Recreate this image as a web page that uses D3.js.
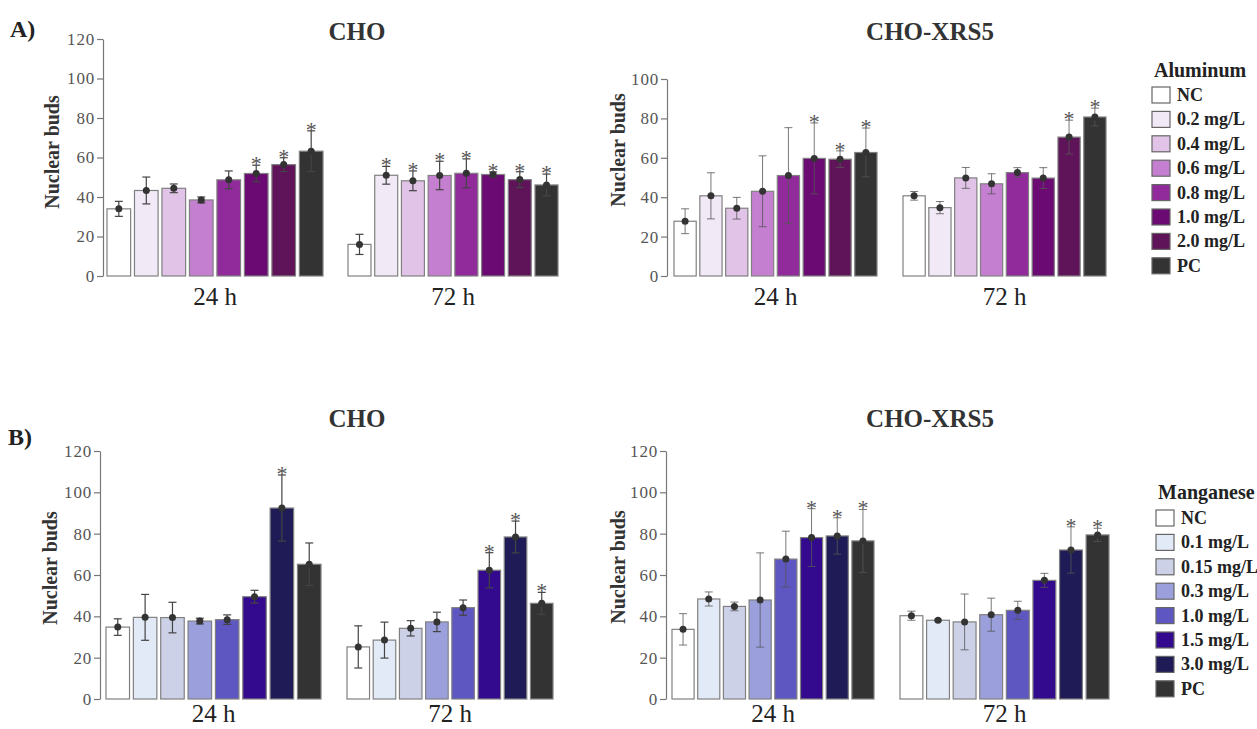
<!DOCTYPE html>
<html><head><meta charset="utf-8">
<script src="https://cdn.jsdelivr.net/npm/d3@7"></script>
<style>
body{margin:0;background:#fff;}
svg text{font-family:"Liberation Serif","Times New Roman",serif !important;}
</style></head>
<body><svg id="c" width="1257" height="729"></svg>
<script>
// ---------- DATA ----------
const alCategories = ["NC","0.2 mg/L","0.4 mg/L","0.6 mg/L","0.8 mg/L","1.0 mg/L","2.0 mg/L","PC"];
const mnCategories = ["NC","0.1 mg/L","0.15 mg/L","0.3 mg/L","1.0 mg/L","1.5 mg/L","3.0 mg/L","PC"];
const alColors = ["#ffffff","#f2e9f7","#e0c3e6","#c47fd0","#912b9b","#6b0a72","#5f1459","#333333"];
const mnColors = ["#ffffff","#e3eaf7","#ccd1e7","#9ba0dd","#5e56c1","#330a8d","#1e1b56","#333333"];
const timeLabels = ["24 h","72 h"];

// Aluminum – CHO
const alCho24 = [34.0,43.3,44.4,38.5,48.7,51.9,56.4,63.2];
const alCho24Err = [3.8,6.8,2.2,1.5,4.5,4.2,3.5,10.3];
const alCho24Sig = [0,0,0,0,0,1,1,1];
const alCho72 = [16.0,51.0,48.2,50.9,52.0,51.4,48.8,46.1];
const alCho72Err = [5.1,4.5,5.0,7.2,7.3,1.3,4.0,5.5];
const alCho72Sig = [0,1,1,1,1,1,1,1];
// Aluminum – CHO-XRS5
const alXrs24 = [27.8,40.7,34.4,43.0,51.0,59.7,59.3,62.7];
const alXrs24Err = [6.3,11.7,5.5,18.0,24.3,18.0,4.2,12.4];
const alXrs24Sig = [0,0,0,0,0,1,1,1];
const alXrs72 = [40.7,34.7,49.8,46.8,52.5,49.7,70.5,80.7];
const alXrs72Err = [2.2,3.1,5.3,5.1,2.5,5.3,8.6,4.5];
const alXrs72Sig = [0,0,0,0,0,0,1,1];
// Manganese – CHO
const mnCho24 = [34.8,39.5,39.4,37.7,38.4,49.5,92.4,65.2];
const mnCho24Err = [4.0,11.1,7.4,1.4,2.3,3.1,16.0,10.3];
const mnCho24Sig = [0,0,0,0,0,0,1,0];
const mnCho72 = [25.2,28.5,34.2,37.3,44.2,62.3,78.4,46.3];
const mnCho72Err = [10.2,8.7,3.7,4.7,3.7,8.5,7.7,5.3];
const mnCho72Sig = [0,0,0,0,0,1,1,1];
// Manganese – CHO-XRS5
const mnXrs24 = [33.7,48.4,44.8,47.9,67.7,78.1,78.9,76.5];
const mnXrs24Err = [7.6,3.4,2.1,22.8,13.5,14.0,8.8,15.2];
const mnXrs24Sig = [0,0,0,0,0,1,1,1];
const mnXrs72 = [40.3,38.1,37.3,40.8,42.9,57.4,72.1,79.4];
const mnXrs72Err = [2.2,0.5,13.5,8.0,4.4,3.4,11.2,3.2];
const mnXrs72Sig = [0,0,0,0,0,0,1,1];

const yTicksA1 = [0,20,40,60,80,100,120];
const yTicksA2 = [0,20,40,60,80,100];
const yTicksB = [0,20,40,60,80,100,120];

// ---------- LAYOUT ----------
const FONT = "'Liberation Serif','Times New Roman',serif";
const svg = d3.select("#c");
const panels = [
  {title:"CHO", tx:357, ty:40, ax:103, y0:276, yTop:39, max:120, ticks:yTicksA1, labX:52, labY:152, tY:305,
   groups:[[107,323],[348,558]], cats:alCategories, colors:alColors,
   series:[[alCho24,alCho24Err,alCho24Sig],[alCho72,alCho72Err,alCho72Sig]], thin:false},
  {title:"CHO-XRS5", tx:930, ty:40, ax:667, y0:276, yTop:79, max:100, ticks:yTicksA2, labX:618, labY:150, tY:305,
   groups:[[674,877],[903,1106]], cats:alCategories, colors:alColors,
   series:[[alXrs24,alXrs24Err,alXrs24Sig],[alXrs72,alXrs72Err,alXrs72Sig]], thin:true},
  {title:"CHO", tx:357, ty:427, ax:100, y0:699, yTop:451, max:120, ticks:yTicksB, labX:50, labY:568, tY:722,
   groups:[[106,321],[347,553]], cats:mnCategories, colors:mnColors,
   series:[[mnCho24,mnCho24Err,mnCho24Sig],[mnCho72,mnCho72Err,mnCho72Sig]], thin:false},
  {title:"CHO-XRS5", tx:930, ty:427, ax:666, y0:699, yTop:451, max:120, ticks:yTicksB, labX:618, labY:567, tY:722,
   groups:[[672,874],[900,1109]], cats:mnCategories, colors:mnColors,
   series:[[mnXrs24,mnXrs24Err,mnXrs24Sig],[mnXrs72,mnXrs72Err,mnXrs72Sig]], thin:true}
];

svg.append("text").attr("x",10).attr("y",37).style("font-size","24px").attr("font-weight","bold").attr("fill","#222").text("A)");
svg.append("text").attr("x",8).attr("y",445).style("font-size","24px").attr("font-weight","bold").attr("fill","#222").text("B)");

panels.forEach(p=>{
  const g = svg.append("g");
  g.append("text").attr("x",p.tx).attr("y",p.ty).attr("text-anchor","middle")
    .style("font-size","25px").attr("font-weight","bold").attr("fill","#333").text(p.title);
  const y = d3.scaleLinear().domain([0,p.max]).range([p.y0,p.yTop]);
  const ax = g.append("g").attr("transform",`translate(${p.ax},0)`)
    .call(d3.axisLeft(y).tickValues(p.ticks).tickSize(6).tickSizeOuter(0).tickPadding(2));
  ax.attr("font-family",null).attr("font-size",null);
  ax.select(".domain").attr("stroke","#777").attr("stroke-width",1.2);
  ax.selectAll(".tick line").attr("stroke","#777").attr("stroke-width",1.2);
  ax.selectAll(".tick text").style("font-family",FONT).style("font-size","17px")
    .attr("fill","#555").attr("letter-spacing","0.8px");
  g.append("text").attr("transform",`translate(${p.labX},${p.labY}) rotate(-90)`)
    .attr("text-anchor","middle").attr("dominant-baseline","central")
    .style("font-size","20px").attr("font-weight","bold").attr("fill","#333").text("Nuclear buds");
  p.series.forEach((s,gi)=>{
    const [vals,errs,sig] = s;
    const x = d3.scaleBand().domain(p.cats).range(p.groups[gi]).paddingInner(0.14).paddingOuter(0);
    const data = p.cats.map((c,i)=>({c,v:vals[i],e:errs[i],s:sig[i],col:p.colors[i]}));
    const gg = g.append("g");
    gg.selectAll("rect").data(data).join("rect")
      .attr("x",d=>x(d.c)).attr("width",x.bandwidth())
      .attr("y",d=>y(d.v)).attr("height",d=>y(0)-y(d.v))
      .attr("fill",d=>d.col).attr("stroke","#808080").attr("stroke-width",1.2);
    const cx = d=>x(d.c)+x.bandwidth()/2;
    const ec = p.thin ? "#555" : "#444";
    const ew = p.thin ? 0.8 : 1.2;
    gg.selectAll("line.v").data(data).join("line").attr("class","v")
      .attr("x1",cx).attr("x2",cx).attr("y1",d=>y(d.v+d.e)).attr("y2",d=>y(d.v-d.e))
      .attr("stroke",ec).attr("stroke-width",ew);
    ["+","-"].forEach(sg=>{
      gg.selectAll("line.c"+(sg==="+"?"u":"l")).data(data).join("line").attr("class","c"+(sg==="+"?"u":"l"))
        .attr("x1",d=>cx(d)-4).attr("x2",d=>cx(d)+4)
        .attr("y1",d=>y(sg==="+"?d.v+d.e:d.v-d.e)).attr("y2",d=>y(sg==="+"?d.v+d.e:d.v-d.e))
        .attr("stroke",ec).attr("stroke-width",ew);
    });
    gg.selectAll("circle").data(data).join("circle")
      .attr("cx",cx).attr("cy",d=>y(d.v)).attr("r",3.5).attr("fill","#333");
    gg.selectAll("text.star").data(data.filter(d=>d.s)).join("text").attr("class","star")
      .attr("x",cx).attr("y",d=>y(d.v+d.e)+6).attr("text-anchor","middle")
      .style("font-size","22px").attr("fill","#555").text("*");
    g.append("text").attr("x",(p.groups[gi][0]+p.groups[gi][1])/2).attr("y",p.tY)
      .attr("text-anchor","middle").style("font-size","25px").attr("fill","#222").text(timeLabels[gi]);
  });
});

// Legends
const legends = [
  {title:"Aluminum", x:1152, ty:77, y0:95, cats:alCategories, colors:alColors},
  {title:"Manganese", x:1156, ty:499, y0:518, cats:mnCategories, colors:mnColors}
];
legends.forEach(L=>{
  const g = svg.append("g");
  g.append("text").attr("x",L.x+2).attr("y",L.ty).style("font-size","20px").attr("font-weight","bold").attr("fill","#222").text(L.title);
  const ly = d3.scaleBand().domain(L.cats).range([L.y0-12, L.y0-12+8*24.4]);
  const rows = g.selectAll("g.r").data(L.cats.map((c,i)=>({c,col:L.colors[i]}))).join("g")
    .attr("transform",d=>`translate(${L.x},${ly(d.c)})`);
  rows.append("rect").attr("x",0).attr("y",4).attr("width",18).attr("height",16)
    .attr("fill",d=>d.col).attr("stroke","#666").attr("stroke-width",1.2);
  rows.append("text").attr("x",25).attr("y",18).style("font-size","18px").attr("font-weight","bold")
    .attr("fill","#222").text(d=>d.c);
});
</script></body></html>
